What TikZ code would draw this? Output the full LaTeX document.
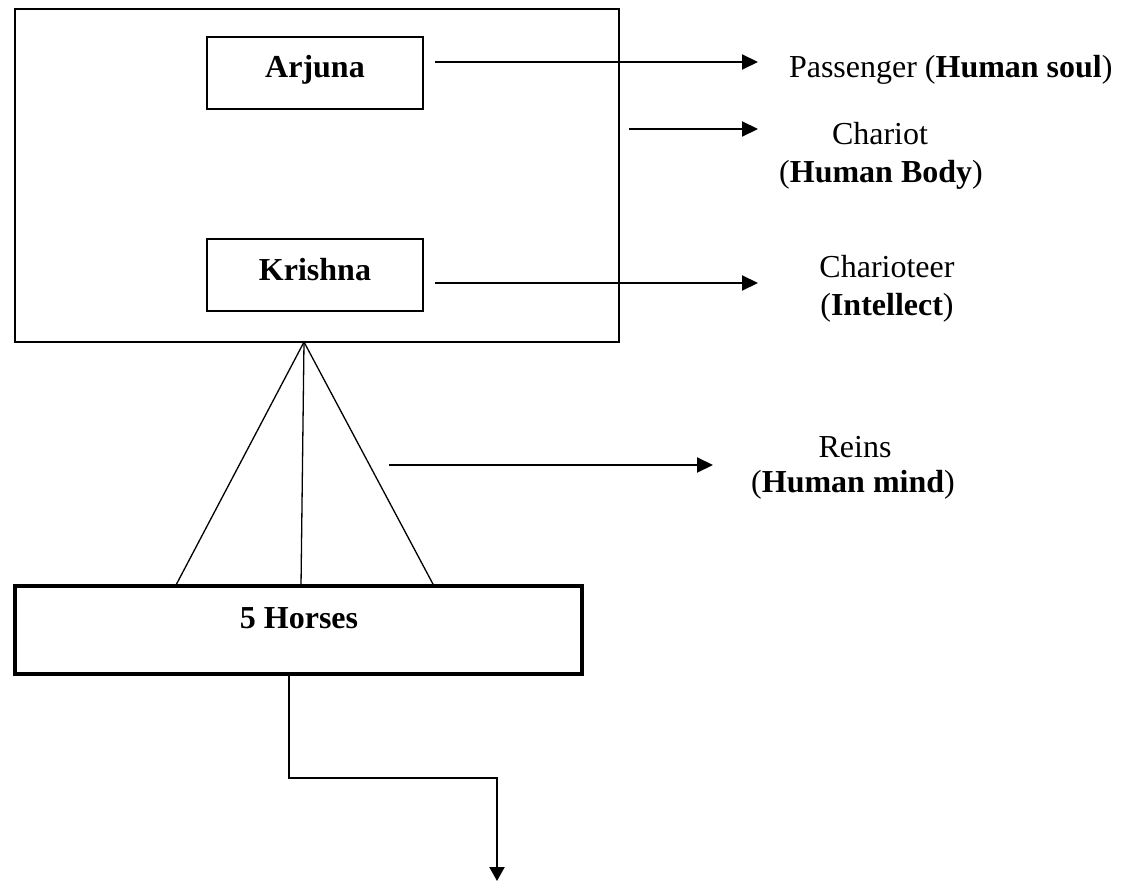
\documentclass[tikz,border=0pt]{standalone}
\usepackage{fontspec}
\setmainfont{Liberation Serif}
\usetikzlibrary{arrows.meta}
\begin{document}
\begin{tikzpicture}[x=0.5pt,y=-0.5pt,
  font=\fontsize{16pt}{19pt}\selectfont,
  outerbox/.style={draw,line width=1pt,inner sep=0pt,outer sep=0pt},
  innerbox/.style={draw,line width=0.8pt,inner sep=0pt,outer sep=0pt,
    minimum width=108pt,minimum height=36pt},
  horsebox/.style={draw,line width=1.75pt,inner sep=0pt,outer sep=0pt,
    minimum width=283.5pt,minimum height=44pt},
  lbl/.style={inner sep=0pt,outer sep=0pt,anchor=base},
  rein/.style={line width=0.65pt},
  pointer/.style={line width=1pt,-{Triangle[length=8pt,width=7.5pt]}},
  link/.style={line width=1.1pt,-{Triangle[length=7pt,width=7.5pt]}}]
\useasboundingbox (0,0) rectangle (1128,882);

% chariot and the two figures in it
\node[outerbox,minimum width=302pt,minimum height=166.5pt] (chariot) at (317,175.5) {};
\node[innerbox] (arjunabox) at (315,73) {};
\node[lbl] (arjuna) at (315,78) {\textbf{Arjuna}};
\node[innerbox] (krishnabox) at (315,275) {};
\node[lbl] (krishna) at (315,280) {\textbf{Krishna}};

% the horses
\node[horsebox] (horses) at (298.5,630) {};
\node[lbl] (horsetext) at (299,628) {\textbf{5 Horses}};

% reins from the chariot to the horses
\coordinate (apex) at (304,342);
\coordinate (reinL) at (175.5,586);
\coordinate (reinM) at (301,586);
\coordinate (reinR) at (434,586);
\draw[rein] (reinL) -- (apex) -- (reinR);
\draw[rein] (apex) -- (reinM);

% explanatory arrows
\coordinate (a1) at (435,62);   \coordinate (b1) at (758,62);
\coordinate (a2) at (629,129);  \coordinate (b2) at (758,129);
\coordinate (a3) at (435,283);  \coordinate (b3) at (758,283);
\coordinate (a4) at (389,465);  \coordinate (b4) at (713,465);
\draw[pointer] (a1) -- (b1);
\draw[pointer] (a2) -- (b2);
\draw[pointer] (a3) -- (b3);
\draw[pointer] (a4) -- (b4);

% labels
\node[lbl,anchor=base west] (passenger) at (789,78) {Passenger (\textbf{Human soul})};
\node[lbl] (chariotA) at (880,145) {Chariot};
\node[lbl] (chariotB) at (881,183) {(\textbf{Human Body})};
\node[lbl] (driverA) at (887,277) {Charioteer};
\node[lbl] (driverB) at (887,315) {(\textbf{Intellect})};
\node[lbl] (reinsA) at (855,457) {Reins};
\node[lbl] (reinsB) at (853,492) {(\textbf{Human mind})};

% path leading away from the horses
\coordinate (bend1) at (289,778);
\coordinate (bend2) at (497,778);
\coordinate (finish) at (497,881);
\draw[link] (horses.south -| bend1) -- (bend1) -- (bend2) -- (finish);
\end{tikzpicture}
\end{document}
